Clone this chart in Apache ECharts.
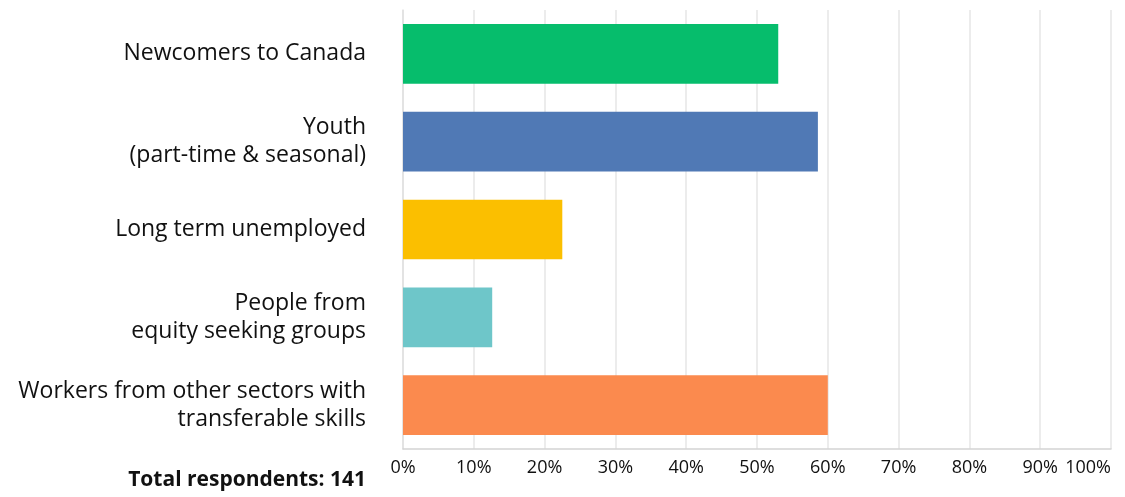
<!DOCTYPE html>
<html>
<head>
<meta charset="utf-8">
<script src="https://cdn.jsdelivr.net/npm/echarts@6/dist/echarts.min.js"></script>
<style>
  html, body { margin: 0; padding: 0; background: #fff; }
  #chart { width: 1125px; height: 497px; }
</style>
</head>
<body>
<div id="chart"></div>
<script>
// Groups that employers reported recruiting from (share of respondents, %)
const categories = [
  'Newcomers to Canada',
  'Youth\n(part-time & seasonal)',
  'Long term unemployed',
  'People from\nequity seeking groups',
  'Workers from other sectors with\ntransferable skills'
];
const values = [53.0, 58.6, 22.5, 12.6, 60.0];
const barColors = ['#06BD6C', '#5079B5', '#FBBF00', '#6EC6C9', '#FB8A4E'];
const tickValues = [0, 10, 20, 30, 40, 50, 60, 70, 80, 90, 100];
const totalNote = 'Total respondents: 141';

const chart = echarts.init(document.getElementById('chart'), null, { renderer: 'canvas' });
const font = 'Open Sans';

chart.setOption({
  animation: false,
  backgroundColor: '#ffffff',
  grid: {
    left: 403, right: 14, top: 10, bottom: 48,
    containLabel: false,
    outerBoundsMode: 'none'
  },
  xAxis: {
    type: 'value',
    min: tickValues[0],
    max: tickValues[tickValues.length - 1],
    interval: 10,
    axisLine: { show: true, lineStyle: { color: '#d4d4d4', width: 1.5 } },
    axisTick: { show: false },
    splitLine: { show: true, lineStyle: { color: '#e6e6e6', width: 1.5 } },
    axisLabel: {
      formatter: v => v + '%',
      color: '#111',
      fontFamily: font,
      fontSize: 18,
      margin: 10,
      hideOverlap: false,
      alignMaxLabel: 'right'
    }
  },
  yAxis: {
    type: 'category',
    inverse: true,
    data: categories,
    axisLine: { show: true, lineStyle: { color: '#e0e0e0', width: 1.5 } },
    axisTick: { show: false },
    axisLabel: {
      color: '#111',
      fontFamily: font,
      fontSize: 23,
      lineHeight: 28,
      align: 'right',
      margin: 37
    }
  },
  series: [{
    type: 'bar',
    data: values.map((v, i) => ({ value: v, itemStyle: { color: barColors[i] } })),
    barCategoryGap: '32%',
    silent: true
  }],
  graphic: [{
    type: 'text',
    right: 1125 - 366,
    top: 470,
    style: {
      text: totalNote,
      font: 'bold 21px "Open Sans"',
      fill: '#111',
      textAlign: 'right'
    }
  }]
});
</script>
</body>
</html>
